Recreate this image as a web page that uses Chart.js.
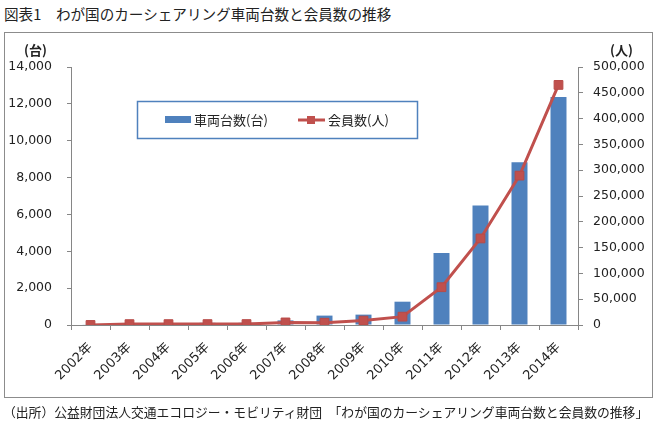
<!DOCTYPE html>
<html>
<head>
<meta charset="utf-8">
<script src="https://cdn.jsdelivr.net/npm/chart.js@4/dist/chart.umd.min.js"></script>
<style>
  body { margin: 0; background: #fff; }
  #wrap { position: relative; width: 661px; height: 424px; overflow: hidden;
          font-family: "Noto Sans CJK JP", sans-serif; color: #222; }
  #chart { position: absolute; left: 0; top: 0; }
  .txt { position: absolute; white-space: nowrap; }
  #title { left: 4px; top: 3px; font-size: 14.6px; }
  #source { left: 3px; top: 402px; font-size: 12.8px; }
  #frame { position: absolute; left: 4px; top: 32px; width: 649px; height: 366px;
           border: 1px solid #8c8c8c; box-sizing: border-box; }
  .unit { font-size: 13px; font-weight: bold; top: 40px; }
</style>
</head>
<body>
<div id="wrap">
  <div id="title" class="txt">図表1　わが国のカーシェアリング車両台数と会員数の推移</div>
  <div id="frame"></div>
  <canvas id="chart" width="661" height="424"></canvas>
  <div class="txt unit" style="left:24px">(台)</div>
  <div class="txt unit" style="left:610px">(人)</div>
  <div id="source" class="txt">（出所）公益財団法人交通エコロジー・モビリティ財団　「わが国のカーシェアリング車両台数と会員数の推移」</div>
</div>
<script>
// categories
const years = ['2002年', '2003年', '2004年', '2005年', '2006年', '2007年', '2008年',
               '2009年', '2010年', '2011年', '2012年', '2013年', '2014年'];

// 車両台数(台) - left axis
const vehicles = [21, 42, 86, 118, 118, 250, 510, 563, 1265, 3911, 6485, 8831, 12373];

// 会員数(人) - right axis
const members = [50, 1700, 1700, 1750, 1800, 5000, 4400, 8500, 16177, 73224, 167745, 289497, 465280];

// axis ranges
const leftMax = 14000, leftStep = 2000;
const rightMax = 500000, rightStep = 50000;

const blue = '#4F81BD';
const red = '#C0504D';
const axisGray = '#868686';
const numFont = { family: '"DejaVu Sans", Verdana, sans-serif', size: 12.5 };

// legend drawn inside the plot, boxed like the original
const insideLegend = {
    id: 'insideLegend',
    afterDraw(chart) {
        const ctx = chart.ctx;
        const ds = chart.data.datasets;
        ctx.save();
        ctx.strokeStyle = blue;
        ctx.lineWidth = 1.5;
        ctx.strokeRect(137.5, 101.5, 280, 37);

        ctx.font = '13px "Noto Sans CJK JP", sans-serif';
        ctx.fillStyle = '#222';
        ctx.textBaseline = 'middle';

        // bar item
        ctx.fillStyle = ds[0].backgroundColor;
        ctx.fillRect(165, 116, 26, 7);
        ctx.fillStyle = '#222';
        ctx.fillText(ds[0].label, 194, 120);

        // line item
        ctx.strokeStyle = ds[1].borderColor;
        ctx.lineWidth = 3;
        ctx.beginPath();
        ctx.moveTo(298, 120);
        ctx.lineTo(325, 120);
        ctx.stroke();
        ctx.fillStyle = ds[1].pointBackgroundColor;
        ctx.fillRect(307, 116, 8, 8);
        ctx.fillStyle = '#222';
        ctx.fillText(ds[1].label, 328, 120);
        ctx.restore();
    }
};

new Chart(document.getElementById('chart'), {
    type: 'bar',
    data: {
        labels: years,
        datasets: [{
            label: '車両台数(台)',
            data: vehicles,
            backgroundColor: blue,
            yAxisID: 'y',
            barPercentage: 0.41,
            categoryPercentage: 1,
            order: 1
        }, {
            type: 'line',
            label: '会員数(人)',
            data: members,
            borderColor: red,
            borderWidth: 3,
            pointStyle: 'rect',
            pointRadius: 6.2,
            pointBackgroundColor: red,
            pointBorderColor: '#b84a47',
            pointBorderWidth: 1,
            tension: 0,
            yAxisID: 'y1',
            order: 0
        }]
    },
    options: {
        responsive: false,
        animation: false,
        events: [],
        layout: { padding: { top: 67, left: 0, right: 0, bottom: 0 } },
        plugins: {
            legend: { display: false },
            tooltip: { enabled: false }
        },
        scales: {
            x: {
                offset: true,
                grid: { offset: true, drawOnChartArea: false, tickLength: 5, color: axisGray },
                border: { color: axisGray },
                ticks: {
                    color: '#222',
                    font: { family: '"DejaVu Sans", "Noto Sans CJK JP", sans-serif', size: 13 },
                    minRotation: 45,
                    maxRotation: 45,
                    padding: 10,
                    autoSkip: false
                },
                afterFit(scale) { scale.height = 99; }
            },
            y: {
                position: 'left',
                min: 0,
                max: leftMax,
                grid: { drawOnChartArea: false, tickLength: 4, color: axisGray },
                border: { color: axisGray },
                ticks: {
                    stepSize: leftStep,
                    color: '#222',
                    font: numFont,
                    padding: 15,
                    callback: v => v.toLocaleString('en-US')
                },
                afterFit(scale) { scale.width = 71; }
            },
            y1: {
                position: 'right',
                min: 0,
                max: rightMax,
                grid: { drawOnChartArea: false, tickLength: 5, color: axisGray },
                border: { color: axisGray },
                ticks: {
                    stepSize: rightStep,
                    color: '#222',
                    font: numFont,
                    padding: 10,
                    callback: v => v.toLocaleString('en-US')
                },
                afterFit(scale) { scale.width = 83; }
            }
        }
    },
    plugins: [insideLegend]
});
</script>
</body>
</html>
